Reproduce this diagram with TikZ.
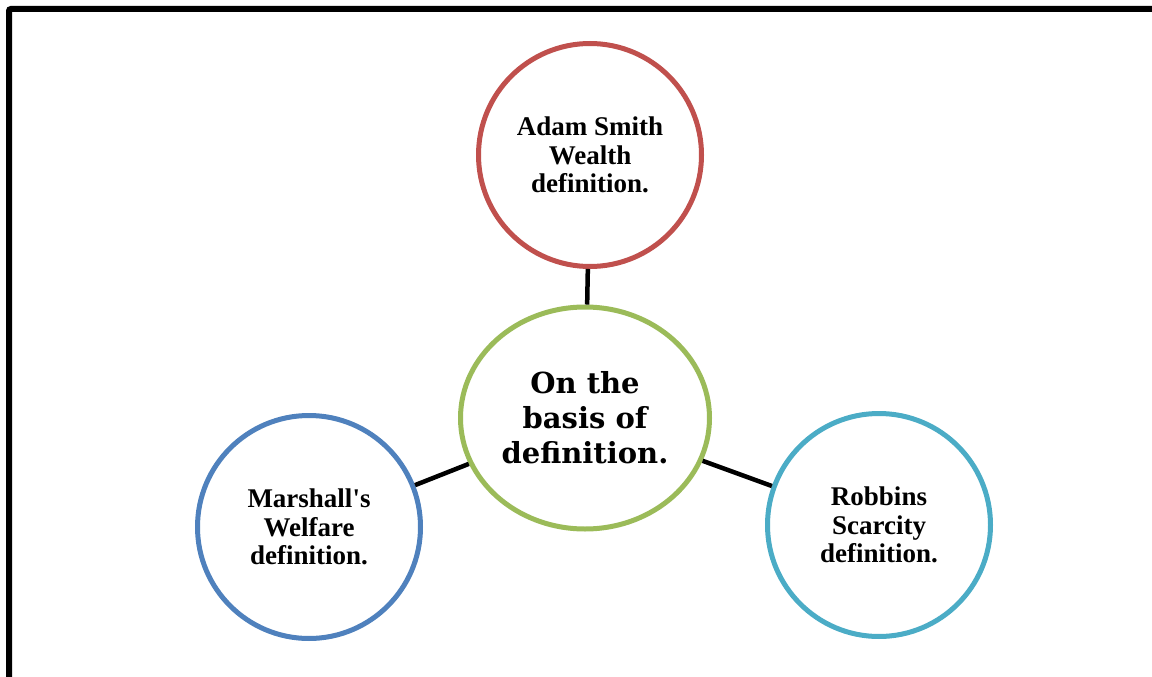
\documentclass[tikz,border=0pt]{standalone}
\usepackage{fontspec}
\setmainfont{Liberation Serif}
\newfontfamily\hubface{DejaVu Serif}
\usetikzlibrary{shapes.geometric}
\newcommand{\hubfont}{\hubface\bfseries\fontsize{29}{35}\selectfont}
\newcommand{\leaffont}{\bfseries\fontsize{27}{28.5}\selectfont}
\definecolor{ringred}{HTML}{C0504D}
\definecolor{ringgreen}{HTML}{9BBB59}
\definecolor{ringblue}{HTML}{4F81BD}
\definecolor{ringteal}{HTML}{4BACC6}
\tikzset{
  leaf/.style={circle, draw, line width=5pt, minimum size=223pt, inner sep=0pt,
    align=center, font=\leaffont, fill=white},
  hub/.style={ellipse, draw=ringgreen, line width=5pt, minimum width=249pt,
    minimum height=222pt, inner sep=0pt, align=center, font=\hubfont, fill=white},
  link/.style={line width=4.5pt, black},
  frame/.style={line width=6pt, black, rounded corners=2pt}
}
\begin{document}
\begin{tikzpicture}[x=1pt, y=-1pt]
  \useasboundingbox (0,0) rectangle (1152,677);
  \clip (0,0) rectangle (1152,677);
  % outer frame (right and bottom edges lie beyond the page)
  \draw[frame] (9,720) -- (9,9) -- (1200,9);

  \node[hub] (hub) at (585,418) {On the\\basis of\\definition.};
  \node[leaf, draw=ringred] (smith) at (590,155) {Adam Smith\\Wealth\\definition.};
  \node[leaf, draw=ringblue] (marshall) at (309,527) {Marshall\textquotesingle s\\Welfare\\definition.};
  \node[leaf, draw=ringteal] (robbins) at (879,525) {Robbins\\Scarcity\\definition.};

  \draw[link] (smith) -- (hub);
  \draw[link] (marshall) -- (hub);
  \draw[link] (robbins) -- (hub);
\end{tikzpicture}
\end{document}
